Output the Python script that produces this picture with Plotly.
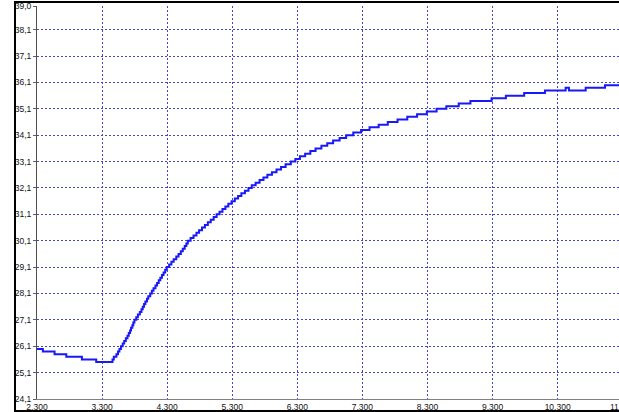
import plotly.graph_objects as go

# Temperature log: time at which each new reading level starts, and the level
time_s = [
    2.30, 2.39, 2.57, 2.75, 2.99, 3.21,
    3.46, 3.48, 3.52, 3.545, 3.566, 3.59, 3.617, 3.64, 3.665, 3.69,
    3.71, 3.73, 3.745, 3.765, 3.78, 3.797, 3.825, 3.85, 3.88, 3.905,
    3.925, 3.945, 3.965, 3.99, 4.01, 4.04, 4.065, 4.09, 4.12, 4.145,
    4.17, 4.195, 4.22, 4.245, 4.27, 4.294, 4.33, 4.365, 4.40, 4.44,
    4.475, 4.51, 4.54, 4.57, 4.595, 4.617, 4.66, 4.705, 4.75, 4.79,
    4.835, 4.88, 4.925, 4.97, 5.015, 5.06, 5.105, 5.15, 5.195, 5.24,
    5.29, 5.34, 5.39, 5.44, 5.495, 5.55, 5.60, 5.66, 5.72, 5.78,
    5.84, 5.91, 5.98, 6.05, 6.12, 6.20, 6.27, 6.34, 6.42, 6.50,
    6.58, 6.67, 6.76, 6.85, 6.95, 7.05, 7.16, 7.28, 7.41, 7.55,
    7.69, 7.84, 7.99, 8.14, 8.29, 8.44, 8.59, 8.78, 8.96, 9.285,
    9.505, 9.786, 10.105, 10.423, 10.474, 10.731, 11.028, 11.30,
]
temp_c = [
    26.0, 25.9, 25.8, 25.7, 25.6, 25.5,
    25.6, 25.7, 25.8, 25.9, 26.0, 26.1, 26.2, 26.3, 26.4, 26.5,
    26.6, 26.7, 26.8, 26.9, 27.0, 27.1, 27.2, 27.3, 27.4, 27.5,
    27.6, 27.7, 27.8, 27.9, 28.0, 28.1, 28.2, 28.3, 28.4, 28.5,
    28.6, 28.7, 28.8, 28.9, 29.0, 29.1, 29.2, 29.3, 29.4, 29.5,
    29.6, 29.7, 29.8, 29.9, 30.0, 30.1, 30.2, 30.3, 30.4, 30.5,
    30.6, 30.7, 30.8, 30.9, 31.0, 31.1, 31.2, 31.3, 31.4, 31.5,
    31.6, 31.7, 31.8, 31.9, 32.0, 32.1, 32.2, 32.3, 32.4, 32.5,
    32.6, 32.7, 32.8, 32.9, 33.0, 33.1, 33.2, 33.3, 33.4, 33.5,
    33.6, 33.7, 33.8, 33.9, 34.0, 34.1, 34.2, 34.3, 34.4, 34.5,
    34.6, 34.7, 34.8, 34.9, 35.0, 35.1, 35.2, 35.3, 35.4, 35.5,
    35.6, 35.7, 35.8, 35.9, 35.8, 35.9, 36.0, 36.0,
]

# Axis ticks and labels
x_tick_vals = [2.3, 3.3, 4.3, 5.3, 6.3, 7.3, 8.3, 9.3, 10.3]
x_tick_text = ["2,300", "3,300", "4,300", "5,300", "6,300",
               "7,300", "8,300", "9,300", "10,300"]
x_edge_tick_val = 11.3
x_edge_tick_text = "11,300"
y_tick_vals = [24.1, 25.1, 26.1, 27.1, 28.1, 29.1, 30.1, 31.1,
               32.1, 33.1, 34.1, 35.1, 36.1, 37.1, 38.1, 39.0]
y_tick_text = ["24,1", "25,1", "26,1", "27,1", "28,1", "29,1", "30,1", "31,1",
               "32,1", "33,1", "34,1", "35,1", "36,1", "37,1", "38,1", "39,0"]
x_range = [2.2999, 11.243]
y_range = [24.0999, 39.0001]

W, H = 619, 412
ML, MR, MT, MB = 37, 0, 6, 13
PW, PH = W - ML - MR, H - MT - MB


def px_x(px):
    return (px - ML) / PW


def px_y(py):
    return (H - MB - py) / PH


FONT = dict(family="Liberation Sans, Arial, sans-serif", size=8.5, color="#111111")
GRID = "#4646c8"

fig = go.Figure()
fig.add_trace(go.Scatter(
    x=time_s, y=temp_c, mode="lines",
    line=dict(color="#1818f8", width=2, shape="hv"),
    hoverinfo="skip", showlegend=False,
))

fig.update_layout(
    width=W, height=H,
    margin=dict(l=ML, r=MR, t=MT, b=MB, pad=0),
    paper_bgcolor="white", plot_bgcolor="white",
    font=FONT,
    showlegend=False,
    xaxis=dict(
        range=x_range, tickmode="array",
        tickvals=x_tick_vals, ticktext=x_tick_text,
        showgrid=True, gridcolor=GRID, gridwidth=1, griddash="2px,2px",
        showline=True, linecolor="#808080", linewidth=1,
        ticks="", zeroline=False, tickfont=FONT,
    ),
    yaxis=dict(
        range=y_range, tickmode="array",
        tickvals=y_tick_vals, ticktext=y_tick_text,
        showgrid=True, gridcolor=GRID, gridwidth=1, griddash="2px,2px",
        showline=True, linecolor="#505050", linewidth=1,
        ticks="outside", ticklen=3, tickcolor="#606060",
        zeroline=False, tickfont=FONT,
    ),
)

# Tick label sitting just past the right edge of the plot
fig.add_annotation(
    x=(x_edge_tick_val - x_range[0]) / (x_range[1] - x_range[0]),
    y=0, xref="paper", yref="paper",
    text=x_edge_tick_text, showarrow=False,
    xanchor="center", yanchor="top", yshift=-1, font=FONT,
)

# Panel frame
frame = "#000000"
for x0, y0, x1, y1, w in [
    (15, 2, W + 2, 2, 2),          # top edge
    (15, 411, W + 2, 411, 2),      # bottom edge
    (15, 1, 15, 412, 2),           # left edge
]:
    fig.add_shape(type="line", xref="paper", yref="paper", layer="above",
                  x0=px_x(x0), x1=px_x(x1), y0=px_y(y0), y1=px_y(y1),
                  line=dict(color=frame, width=w))

fig.write_html("out.html")
